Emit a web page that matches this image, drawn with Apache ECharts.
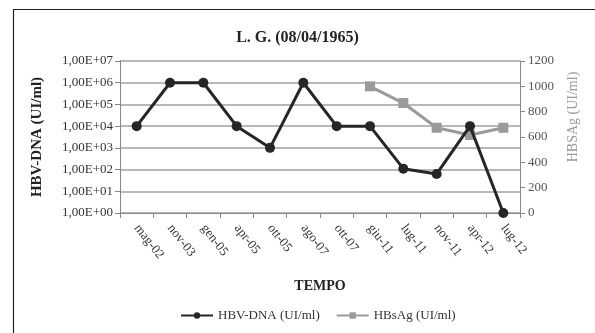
<!DOCTYPE html>
<html><head><meta charset="utf-8">
<script src="https://cdn.jsdelivr.net/npm/echarts@6/dist/echarts.min.js"></script>
<style>html,body{margin:0;padding:0;background:#fff}#c{width:595px;height:333px}</style>
</head><body><div id="c"></div>
<script>
var categories = ['mag-02','nov-03','gen-05','apr-05','ott-05','ago-07','ott-07','giu-11','lug-11','nov-11','apr-12','lug-12'];
var hbvDna = [1e4, 1e6, 1e6, 1e4, 1e3, 1e6, 1e4, 1e4, 110, 63, 1e4, 1];
var hbsAg = [null, null, null, null, null, null, null, 1000, 868, 673, 616, 673];
var rightTicks = [0, 200, 400, 600, 800, 1000, 1200];

var F = '"Liberation Serif", "DejaVu Serif", serif';
var chart = echarts.init(document.getElementById('c'));
function sci(v){
  var e = Math.round(Math.log10(v));
  return '1,00E+' + (e < 10 ? '0' + e : e);
}
chart.setOption({
  animation: false,
  textStyle: {fontFamily: F},
  graphic: [{type: 'rect', shape: {x: 13.5, y: 9.5, width: 700, height: 400}, style: {fill: 'none', stroke: '#222', lineWidth: 1.2}}],
  title: {text: 'L. G. (08/04/1965)', left: 'center', top: 25, textStyle: {fontFamily: F, fontSize: 16, fontWeight: 'bold', color: '#222'}},
  legend: {top: 304, left: 175, itemWidth: 32, itemHeight: 8, itemGap: 16,
    textStyle: {fontFamily: F, fontSize: 13, color: '#333'},
    data: [{name: 'HBV-DNA (UI/ml)'}, {name: 'HBsAg (UI/ml)'}]},
  grid: {left: 120, right: 75, top: 61, bottom: 120},
  xAxis: {type: 'category', data: categories, boundaryGap: true,
    name: 'TEMPO', nameLocation: 'middle', nameGap: 66,
    nameTextStyle: {fontFamily: F, fontSize: 14, fontWeight: 'bold', color: '#222'},
    axisLine: {lineStyle: {color: '#888'}},
    axisTick: {show: true, alignWithLabel: false, lineStyle: {color: '#888'}},
    axisLabel: {rotate: -52, fontFamily: F, fontSize: 13, color: '#333', margin: 13, interval: 0},
    splitLine: {show: false}},
  yAxis: [{type: 'log', min: 1, max: 1e7, logBase: 10, position: 'left',
      name: 'HBV-DNA (UI/ml)', nameLocation: 'middle', nameGap: 75, nameRotate: 90,
      nameTextStyle: {fontFamily: F, fontSize: 15, fontWeight: 'bold', color: '#222'},
      axisLine: {show: true, lineStyle: {color: '#888'}},
      axisTick: {show: true, lineStyle: {color: '#888'}},
      axisLabel: {formatter: sci, fontFamily: F, fontSize: 13, color: '#333', margin: 7},
      splitLine: {show: true, lineStyle: {color: '#a0a0a0', width: 1.5}},
      minorTick: {show: false}},
    {type: 'value', min: 0, max: 1200, interval: 200, position: 'right',
      name: 'HBSAg (UI/ml)', nameLocation: 'middle', nameGap: 46, nameRotate: 90,
      nameTextStyle: {fontFamily: F, fontSize: 14, color: '#999', padding: [0, 0, 0, 40]},
      axisLine: {show: true, lineStyle: {color: '#888'}},
      axisTick: {show: true, lineStyle: {color: '#888'}},
      axisLabel: {formatter: function(v){ return String(v); }, fontFamily: F, fontSize: 13, color: '#555', margin: 8},
      splitLine: {show: false}}],
  series: [
    {name: 'HBV-DNA (UI/ml)', type: 'line', yAxisIndex: 0, data: hbvDna,
      symbol: 'circle', symbolSize: 10, lineStyle: {color: '#262626', width: 3},
      itemStyle: {color: '#262626'}, z: 3},
    {name: 'HBsAg (UI/ml)', type: 'line', yAxisIndex: 1, data: hbsAg,
      symbol: 'rect', symbolSize: 10, lineStyle: {color: '#9a9a9a', width: 3},
      itemStyle: {color: '#9a9a9a'}, z: 2}
  ]
});
</script></body></html>
